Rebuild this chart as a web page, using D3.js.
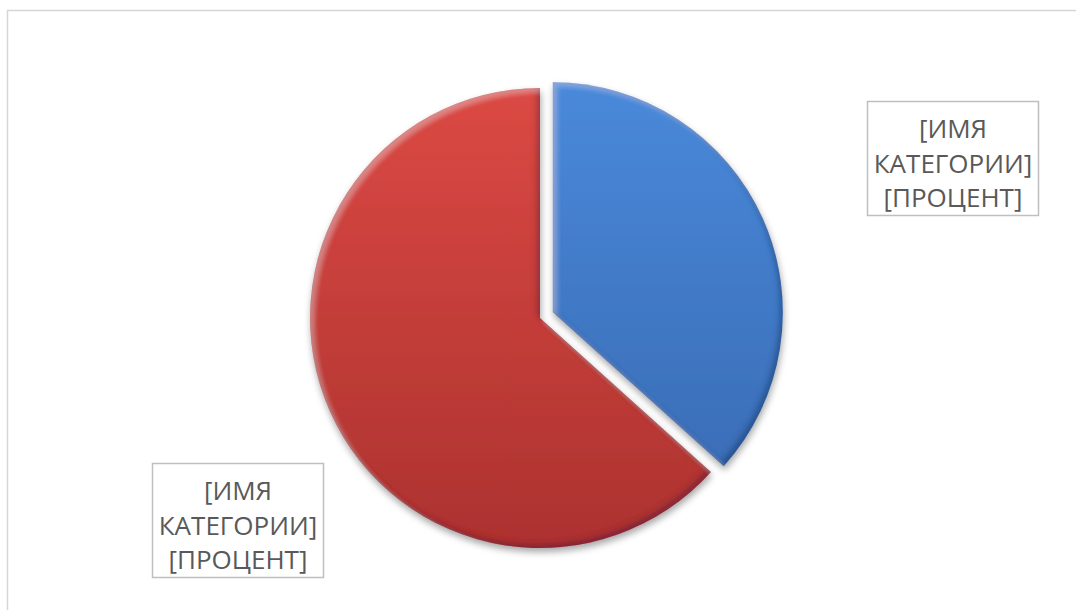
<!DOCTYPE html>
<html lang="ru">
<head>
<meta charset="utf-8">
<title>Круговая диаграмма</title>
<script src="https://cdn.jsdelivr.net/npm/d3@7"></script>
<style>
  html, body { margin: 0; padding: 0; background: #ffffff; }
  svg { display: block; }
</style>
</head>
<body>
<svg id="chart" width="1076" height="610"></svg>
<script>
// Slice data: category placeholders and their values
const categories = ["[ИМЯ КАТЕГОРИИ]", "[ИМЯ КАТЕГОРИИ]"];
const values = [11, 19];
const labelLines = [
  ["[ИМЯ", "КАТЕГОРИИ]", "[ПРОЦЕНТ]"],
  ["[ИМЯ", "КАТЕГОРИИ]", "[ПРОЦЕНТ]"]
];

// Layout and styling
const W = 1076, H = 610;
const center = { x: 540, y: 318 };
const radius = 230;
const explode = [14, 0];
const palette = [
  { top: "#4989da", bottom: "#3868b0" },
  { top: "#db4944", bottom: "#ac322f" }
];
// Label boxes (top-left corner of each box)
const labelBoxes = [
  { x: 867.5, y: 101.5 },
  { x: 152.5, y: 463.5 }
];
const boxW = 171, boxH = 114;

const svg = d3.select("#chart");
const defs = svg.append("defs");

// Outer frame of the chart area
svg.append("rect")
  .attr("x", 7.5).attr("y", 10.5)
  .attr("width", W + 20).attr("height", H + 20)
  .attr("fill", "#ffffff")
  .attr("stroke", "#d6d6d6")
  .attr("stroke-width", 1.5);

// Vertical gradients for each slice
palette.forEach((c, i) => {
  const g = defs.append("linearGradient")
    .attr("id", "grad" + i)
    .attr("gradientUnits", "userSpaceOnUse")
    .attr("x1", 0).attr("y1", -radius)
    .attr("x2", 0).attr("y2", radius);
  g.append("stop").attr("offset", "0%").attr("stop-color", c.top);
  g.append("stop").attr("offset", "100%").attr("stop-color", c.bottom);
});

// Bevel: light on top-left facing edges, shade on bottom-right edges, soft drop shadow
const f = defs.append("filter")
  .attr("id", "bevel")
  .attr("x", "-10%").attr("y", "-10%")
  .attr("width", "120%").attr("height", "125%");
// drop shadow
f.append("feGaussianBlur").attr("in", "SourceAlpha").attr("stdDeviation", 3.5).attr("result", "sblur");
f.append("feOffset").attr("in", "sblur").attr("dx", 1).attr("dy", 4).attr("result", "soff");
f.append("feFlood").attr("flood-color", "#000").attr("flood-opacity", 0.35).attr("result", "scol");
f.append("feComposite").attr("in", "scol").attr("in2", "soff").attr("operator", "in").attr("result", "shadow");
// dark rim all round the outline
f.append("feGaussianBlur").attr("in", "SourceAlpha").attr("stdDeviation", 2).attr("result", "rimBlur");
f.append("feComposite").attr("in", "SourceAlpha").attr("in2", "rimBlur").attr("operator", "out").attr("result", "rimMask");
f.append("feFlood").attr("flood-color", "#102040").attr("flood-opacity", 0.25).attr("result", "rimCol");
f.append("feComposite").attr("in", "rimCol").attr("in2", "rimMask").attr("operator", "in").attr("result", "rim");
// dark inner edge (bottom-right)
f.append("feOffset").attr("in", "SourceAlpha").attr("dx", -4).attr("dy", -4).attr("result", "offA");
f.append("feGaussianBlur").attr("in", "offA").attr("stdDeviation", 2.5).attr("result", "offAb");
f.append("feComposite").attr("in", "SourceAlpha").attr("in2", "offAb").attr("operator", "out").attr("result", "darkMask");
f.append("feFlood").attr("flood-color", "#102040").attr("flood-opacity", 0.38).attr("result", "darkCol");
f.append("feComposite").attr("in", "darkCol").attr("in2", "darkMask").attr("operator", "in").attr("result", "darkEdge");
// light inner edge (top-left)
f.append("feOffset").attr("in", "SourceAlpha").attr("dx", 4).attr("dy", 4).attr("result", "offB");
f.append("feGaussianBlur").attr("in", "offB").attr("stdDeviation", 2.5).attr("result", "offBb");
f.append("feComposite").attr("in", "SourceAlpha").attr("in2", "offBb").attr("operator", "out").attr("result", "lightMask");
f.append("feFlood").attr("flood-color", "#ffffff").attr("flood-opacity", 0.2).attr("result", "lightCol");
f.append("feComposite").attr("in", "lightCol").attr("in2", "lightMask").attr("operator", "in").attr("result", "lightEdge");
const merge = f.append("feMerge");
merge.append("feMergeNode").attr("in", "shadow");
merge.append("feMergeNode").attr("in", "SourceGraphic");
merge.append("feMergeNode").attr("in", "rim");
merge.append("feMergeNode").attr("in", "darkEdge");
merge.append("feMergeNode").attr("in", "lightEdge");

// Pie layout, starting at twelve o'clock, in data order
const pie = d3.pie().sort(null).value(d => d);
const arcs = pie(values);
const arc = d3.arc().innerRadius(0).outerRadius(radius);

const slices = svg.append("g").selectAll("g.slice")
  .data(arcs)
  .join("g")
  .attr("class", "slice")
  .attr("transform", (d, i) => {
    const mid = (d.startAngle + d.endAngle) / 2;
    const dx = Math.sin(mid) * explode[i];
    const dy = -Math.cos(mid) * explode[i];
    return `translate(${center.x + dx},${center.y + dy})`;
  });

slices.append("path")
  .attr("d", arc)
  .attr("fill", (d, i) => `url(#grad${i})`)
  .attr("filter", "url(#bevel)")
  .append("title")
  .text((d, i) => categories[i]);

// Data labels in framed boxes
const labels = svg.append("g").selectAll("g.label")
  .data(arcs)
  .join("g")
  .attr("class", "label")
  .attr("transform", (d, i) => `translate(${labelBoxes[i].x},${labelBoxes[i].y})`);

labels.append("rect")
  .attr("width", boxW).attr("height", boxH)
  .attr("fill", "#ffffff")
  .attr("stroke", "#bfbfbf")
  .attr("stroke-width", 1.5);

labels.each(function (d, i) {
  const t = d3.select(this).append("text")
    .attr("text-anchor", "middle")
    .attr("font-family", "'Open Sans', 'Noto Sans', sans-serif")
    .attr("font-size", 26)
    .attr("fill", "#595959");
  labelLines[i].forEach((line, k) => {
    t.append("tspan")
      .attr("x", boxW / 2)
      .attr("y", 36.5 + k * 34.5)
      .text(line);
  });
});
</script>
</body>
</html>
